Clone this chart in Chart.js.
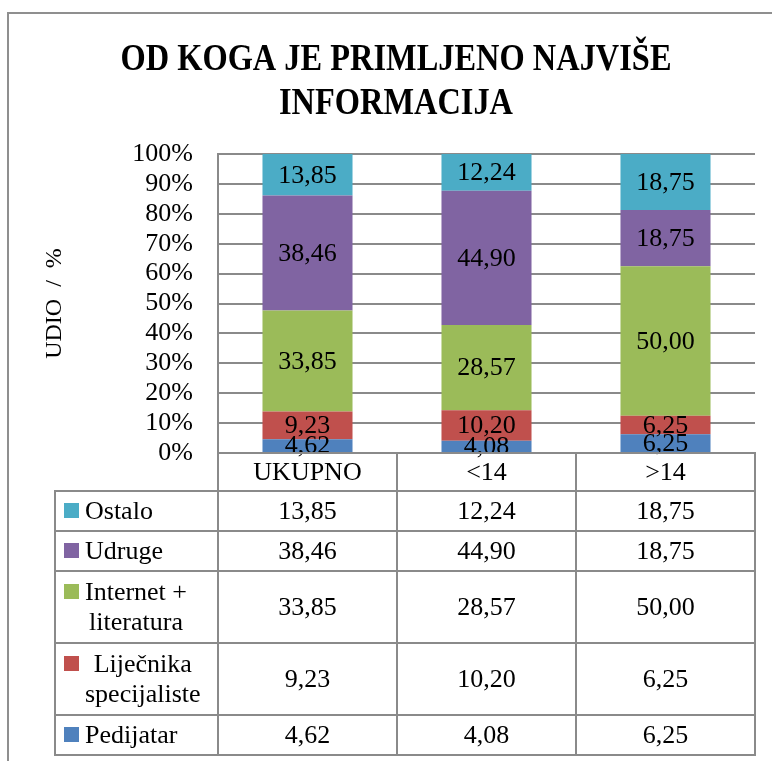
<!DOCTYPE html>
<html>
<head>
<meta charset="utf-8">
<script src="https://cdn.jsdelivr.net/npm/chart.js@4.4.0/dist/chart.umd.min.js"></script>
<style>
  html, body { margin: 0; padding: 0; background: #fff; }
  #wrap { position: relative; width: 772px; height: 761px; overflow: hidden; }
  #frame { position: absolute; left: 7px; top: 12px; width: 820px; height: 820px;
           border-left: 2px solid #8f8f8f; border-top: 2px solid #8f8f8f; }
  canvas { position: absolute; left: 0; top: 0; }
</style>
</head>
<body>
<div id="wrap">
  <div id="frame"></div>
  <canvas id="chart" width="772" height="761"></canvas>
</div>
<script>
// data, bottom segment first
const categories = ["UKUPNO", "<14", ">14"];
const pedijatar = [4.62, 4.08, 6.25];
const lijecnika = [9.23, 10.20, 6.25];
const internet = [33.85, 28.57, 50.00];
const udruge = [38.46, 44.90, 18.75];
const ostalo = [13.85, 12.24, 18.75];
const seriesLabels = [["Pedijatar"], ["Liječnika", "specijaliste"], ["Internet +", "literatura"], ["Udruge"], ["Ostalo"]];
const seriesColors = ["#4f81bd", "#c0504d", "#9bbb59", "#8064a2", "#4bacc6"];
const titleLines = ["OD KOGA JE PRIMLJENO NAJVIŠE", "INFORMACIJA"];
const yTitle = "UDIO  /  %";

const FONT = '"Liberation Serif", serif';
const GRID = "#8a8a8a";

const fmt = (v) => v.toFixed(2).replace(".", ",");

const titlePlugin = {
  id: "bigTitle",
  afterDraw(chart) {
    const ctx = chart.ctx;
    ctx.save();
    ctx.font = "bold 38px " + FONT;
    const sx = 551 / ctx.measureText(titleLines[0]).width;
    ctx.fillStyle = "#000";
    ctx.textAlign = "center";
    ctx.textBaseline = "alphabetic";
    [70, 114].forEach((yy, i) => {
      ctx.save();
      ctx.translate(396, yy);
      ctx.scale(sx, 1);
      ctx.fillText(titleLines[i], 0, 0);
      ctx.restore();
    });
    ctx.restore();
  },
};

const labelPlugin = {
  id: "segLabels",
  afterDatasetsDraw(chart) {
    const ctx = chart.ctx;
    ctx.save();
    ctx.font = "26px " + FONT;
    ctx.fillStyle = "#000";
    ctx.textAlign = "center";
    ctx.textBaseline = "middle";
    chart.data.datasets.forEach((ds, i) => {
      chart.getDatasetMeta(i).data.forEach((bar, j) => {
        ctx.fillText(fmt(ds.data[j]), bar.x, (bar.y + bar.base) / 2 + 1);
      });
    });
    ctx.restore();
  },
};

// data table under the plot, columns follow the x scale
const tablePlugin = {
  id: "dataTable",
  afterDraw(chart) {
    const ctx = chart.ctx;
    const area = chart.chartArea;
    const xs = chart.scales.x;
    const colW = (area.right - area.left) / categories.length;
    const legLeft = 55;
    const headTop = area.bottom;
    const headBot = headTop + 38;
    const rows = chart.data.datasets.map((ds, i) => i).reverse();
    const heights = rows.map((i) => (seriesLabels[i].length > 1 ? 72 : 40));
    const bottom = headBot + heights.reduce((a, b) => a + b, 0);

    ctx.save();
    ctx.strokeStyle = GRID;
    ctx.lineWidth = 2;
    ctx.beginPath();
    ctx.moveTo(area.left - 1, headTop); ctx.lineTo(area.right + 1, headTop);
    ctx.moveTo(legLeft - 1, headBot); ctx.lineTo(area.right + 1, headBot);
    let y = headBot;
    heights.forEach((h) => {
      y += h;
      ctx.moveTo(legLeft - 1, y); ctx.lineTo(area.right + 1, y);
    });
    for (let k = 0; k <= categories.length; k++) {
      const x = area.left + k * colW;
      ctx.moveTo(x, headTop); ctx.lineTo(x, bottom);
    }
    ctx.moveTo(legLeft, headBot); ctx.lineTo(legLeft, bottom);
    ctx.stroke();

    ctx.fillStyle = "#000";
    ctx.textAlign = "center";
    ctx.textBaseline = "middle";
    ctx.font = "26px " + FONT;
    categories.forEach((c, j) => ctx.fillText(c, xs.getPixelForValue(j), headTop + 20));

    y = headBot;
    rows.forEach((i, r) => {
      const h = heights[r];
      const mid = y + h / 2;
      const ds = chart.data.datasets[i];
      ctx.fillStyle = "#000";
      ctx.textAlign = "center";
      ds.data.forEach((v, j) => ctx.fillText(fmt(v), xs.getPixelForValue(j), mid + 1));

      const lines = seriesLabels[i];
      const maxW = Math.max(...lines.map((l) => ctx.measureText(l).width));
      const cx = 85 + maxW / 2;
      const firstY = lines.length > 1 ? mid - 15 : mid;
      ctx.fillStyle = seriesColors[i];
      ctx.fillRect(64, firstY - 8, 15, 15);
      ctx.fillStyle = "#000";
      lines.forEach((l, n) => ctx.fillText(l, cx, firstY + n * 30 + 1));
      y += h;
    });
    ctx.restore();
  },
};

const seriesData = [pedijatar, lijecnika, internet, udruge, ostalo];

new Chart(document.getElementById("chart"), {
  type: "bar",
  data: {
    labels: categories,
    datasets: seriesData.map((d, i) => ({
      label: seriesLabels[i].join(" "),
      data: d,
      backgroundColor: seriesColors[i],
      borderWidth: 0,
      barPercentage: 0.503,
      categoryPercentage: 1,
    })),
  },
  options: {
    responsive: false,
    animation: false,
    devicePixelRatio: 1,
    layout: { padding: { left: 0, right: 17, top: 154, bottom: 308 } },
    plugins: { legend: { display: false }, tooltip: { enabled: false }, title: { display: false } },
    scales: {
      x: { stacked: true, display: false },
      y: {
        stacked: true,
        min: 0,
        max: 100,
        ticks: {
          stepSize: 10,
          autoSkip: false,
          callback: (v) => v + "%",
          color: "#000",
          font: { family: FONT, size: 26 },
          padding: 25,
        },
        grid: { color: GRID, lineWidth: 2, drawTicks: false },
        border: { display: true, color: GRID, width: 2 },
        title: {
          display: true,
          text: yTitle,
          color: "#000",
          font: { family: FONT, size: 24 },
          padding: { top: 40, bottom: 0 },
        },
        afterFit(scale) {
          scale.width = 218;
        },
      },
    },
  },
  plugins: [titlePlugin, labelPlugin, tablePlugin],
});
</script>
</body>
</html>
